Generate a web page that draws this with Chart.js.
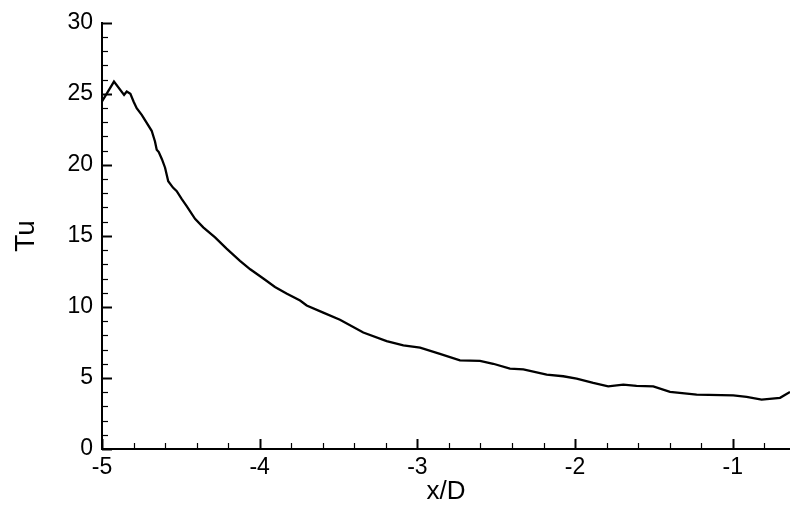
<!DOCTYPE html>
<html>
<head>
<meta charset="utf-8">
<script src="https://cdn.jsdelivr.net/npm/chart.js@4/dist/chart.umd.min.js"></script>
<style>
html,body{margin:0;padding:0;background:#fff;}
#wrap{width:790px;height:511px;position:relative;}
</style>
</head>
<body>
<div id="wrap"><canvas id="c" width="790" height="511"></canvas></div>
<script>
// Data
const xOverD = [-5.00,-4.924,-4.86,-4.843,-4.82,-4.80,-4.78,-4.748,-4.685,-4.664,-4.653,-4.64,-4.62,-4.60,-4.58,-4.55,-4.526,-4.495,-4.463,-4.41,-4.358,-4.283,-4.21,-4.125,-4.06,-3.977,-3.903,-3.83,-3.744,-3.702,-3.597,-3.491,-3.343,-3.195,-3.089,-2.983,-2.857,-2.73,-2.603,-2.519,-2.413,-2.328,-2.18,-2.075,-1.99,-1.885,-1.79,-1.694,-1.61,-1.504,-1.398,-1.229,-0.997,-0.912,-0.817,-0.70,-0.637];
const tu = [24.46,25.86,24.93,25.16,25.0,24.46,23.99,23.52,22.40,21.65,21.07,20.9,20.4,19.8,18.85,18.4,18.15,17.6,17.1,16.2,15.6,14.9,14.1,13.25,12.65,12.0,11.4,10.95,10.45,10.1,9.6,9.1,8.2,7.6,7.3,7.13,6.7,6.24,6.2,6.0,5.66,5.6,5.23,5.12,4.95,4.65,4.41,4.53,4.44,4.41,4.02,3.83,3.78,3.67,3.48,3.60,4.02];
const xMajorTicks = [-5,-4,-3,-2,-1];
const xMinorStep = 0.2;
const yMajorTicks = [0,5,10,15,20,25,30];
const yMinorStep = 1;
const xLabel = 'x/D';
const yLabel = 'Tu';

const FONT = 'Liberation Sans, Arial, Helvetica, sans-serif';

const tickPlugin = {
  id: 'innerTicks',
  afterDatasetsDraw(chart) {
    const ctx = chart.ctx;
    const xs = chart.scales.x, ys = chart.scales.y;
    const area = chart.chartArea;
    ctx.save();
    ctx.strokeStyle = '#000';
    for (let v = -5; v <= xs.max + 1e-9; v += xMinorStep) {
      const vv = Math.round(v * 10) / 10;
      const major = xMajorTicks.includes(vv);
      const px = Math.round(xs.getPixelForValue(vv)) + 0.5;
      if (px > area.right) continue;
      ctx.lineWidth = major ? 2 : 1.2;
      ctx.beginPath();
      ctx.moveTo(px, area.bottom);
      ctx.lineTo(px, area.bottom - (major ? 10 : 6));
      ctx.stroke();
    }
    for (let v = 0; v <= 30; v += yMinorStep) {
      const major = yMajorTicks.includes(v);
      const py = Math.round(ys.getPixelForValue(v)) + 0.5;
      ctx.lineWidth = major ? 2 : 1.2;
      ctx.beginPath();
      ctx.moveTo(area.left, py);
      ctx.lineTo(area.left + (major ? 10 : 6), py);
      ctx.stroke();
    }
    ctx.restore();
  }
};

new Chart(document.getElementById('c'), {
  type: 'line',
  data: {
    datasets: [{
      data: xOverD.map((x, i) => ({x: x, y: tu[i]})),
      borderColor: '#000',
      borderWidth: 2.3,
      pointRadius: 0,
      tension: 0,
      fill: false
    }]
  },
  options: {
    responsive: false,
    animation: false,
    devicePixelRatio: 1,
    layout: {padding: {top: 21, right: 0, left: 0, bottom: 0}},
    plugins: {legend: {display: false}, tooltip: {enabled: false}},
    scales: {
      x: {
        type: 'linear',
        min: -5,
        max: -0.637,
        afterFit(s) { s.height = 62; },
        afterBuildTicks(s) { s.ticks = xMajorTicks.map(v => ({value: v})); },
        grid: {display: false, drawTicks: false},
        border: {display: true, color: '#000', width: 2},
        ticks: {color: '#000', font: {family: FONT, size: 23}, padding: 5, maxRotation: 0, autoSkip: false, callback: v => String(v)},
        title: {display: true, text: xLabel, color: '#000', font: {family: FONT, size: 26}, padding: {top: 0, bottom: 4}}
      },
      y: {
        type: 'linear',
        min: 0,
        max: 30,
        afterFit(s) { s.width = 102; },
        afterBuildTicks(s) { s.ticks = yMajorTicks.map(v => ({value: v})); },
        grid: {display: false, drawTicks: false},
        border: {display: true, color: '#000', width: 2},
        ticks: {color: '#000', font: {family: FONT, size: 23}, padding: 9, autoSkip: false, callback: v => String(v)},
        title: {display: true, text: yLabel, color: '#000', font: {family: FONT, size: 28}, padding: {top: 9, bottom: 0}}
      }
    }
  },
  plugins: [tickPlugin]
});
</script>
</body>
</html>
